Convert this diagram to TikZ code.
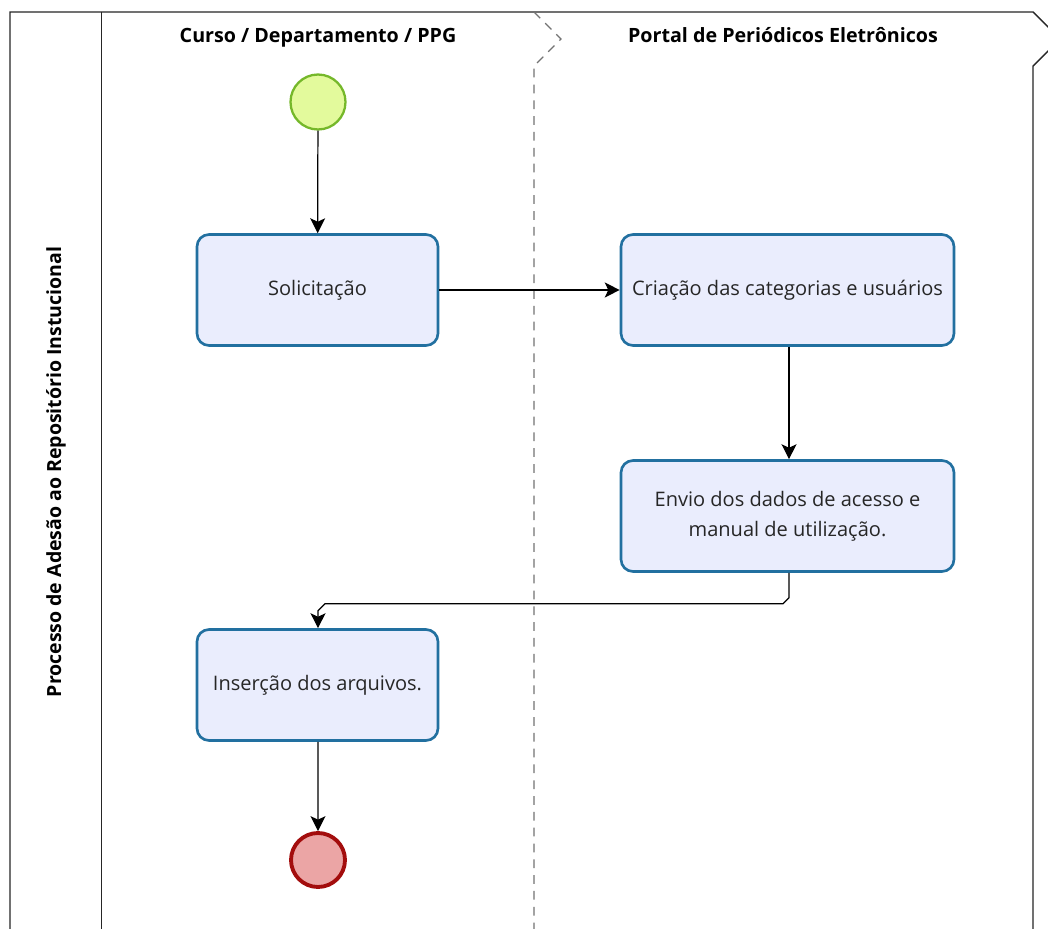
\documentclass[tikz,border=0pt]{standalone}
\usepackage{fontspec}
\setmainfont{Open Sans}
\usetikzlibrary{arrows.meta,calc}
\definecolor{taskfill}{HTML}{EAEDFD}
\definecolor{taskline}{HTML}{2270A0}
\definecolor{startfill}{HTML}{E3FA9C}
\definecolor{startline}{HTML}{75B82A}
\definecolor{endfill}{HTML}{EBA5A5}
\definecolor{endline}{HTML}{A30D0D}
\tikzset{
  task/.style={draw=taskline,fill=taskfill,line width=1.5pt,rounded corners=0.24cm,
    minimum width=4.82cm,minimum height=2.22cm,align=center,font=\fontsize{11.4}{17}\selectfont,text=black!85},
  task wide/.style={task,minimum width=6.66cm},
  startev/.style={circle,draw=startline,fill=startfill,line width=1.3pt,minimum size=1.1cm,inner sep=0pt},
  endev/.style={circle,draw=endline,fill=endfill,line width=2.2pt,minimum size=1.08cm,inner sep=0pt},
  flow/.style={line width=0.7pt,-{Stealth[length=8.5pt,width=8.5pt,inset=2pt]}},
  lanehead/.style={anchor=base,font=\bfseries\fontsize{11.2}{13}\selectfont}
}
\begin{document}
\begin{tikzpicture}[x=0.02cm,y=-0.02cm]
    \useasboundingbox(0,0)rectangle(1048,929);
    \clip(0,0)rectangle(1048,929);
    \fill[white](0,0)rectangle(1048,929);
    \draw[line width=0.8pt,black!85](10,929)--(10,12)--(1033,12)--(1060,39)--(1033,66)--(1033,929);
    \draw[line width=0.8pt,black!85](101.5,12)--(101.5,929);
    \draw[line width=0.7pt,black!55,dash pattern=on 5pt off 4pt](534,12)--(561,39)--(534,66)--(534,929);
    \node[rotate=90,font=\bfseries\fontsize{11.1}{13}\selectfont](pool)at(56,472){Processo de Adesão ao Repositório Instucional};
    \node[lanehead](lane1)at(318,43){Curso / Departamento / PPG};
    \node[lanehead](lane2)at(783,43){Portal de Periódicos Eletrônicos};
    \node[startev](start)at(318,102){};
    \node[task](sol)at(317.5,290){Solicitação};
    \node[task wide](cri)at(787.5,290){Criação das categorias e usuários};
    \node[task wide](env)at(787.5,516){Envio dos dados de acesso e\\manual de utilização.};
    \node[task](ins)at(317.5,685){Inserção dos arquivos.};
    \node[endev](fim)at(318,860){};
    \draw[flow](start)--(sol);
    \draw[flow](sol)--(cri);
    \draw[flow]($(cri.south)+(1.5,0)$)--($(env.north)+(1.5,0)$);
    \draw[flow]($(env.south)+(1.5,0)$)--++(0,25)--++(-6,6)coordinate(bend)--($(ins.north|-bend)+(7.5,0)$)--++(-7,7)--($(ins.north)+(0.5,0)$);
    \draw[flow]($(ins.south)+(0.5,0)$)--(fim);
\end{tikzpicture}
\end{document}
